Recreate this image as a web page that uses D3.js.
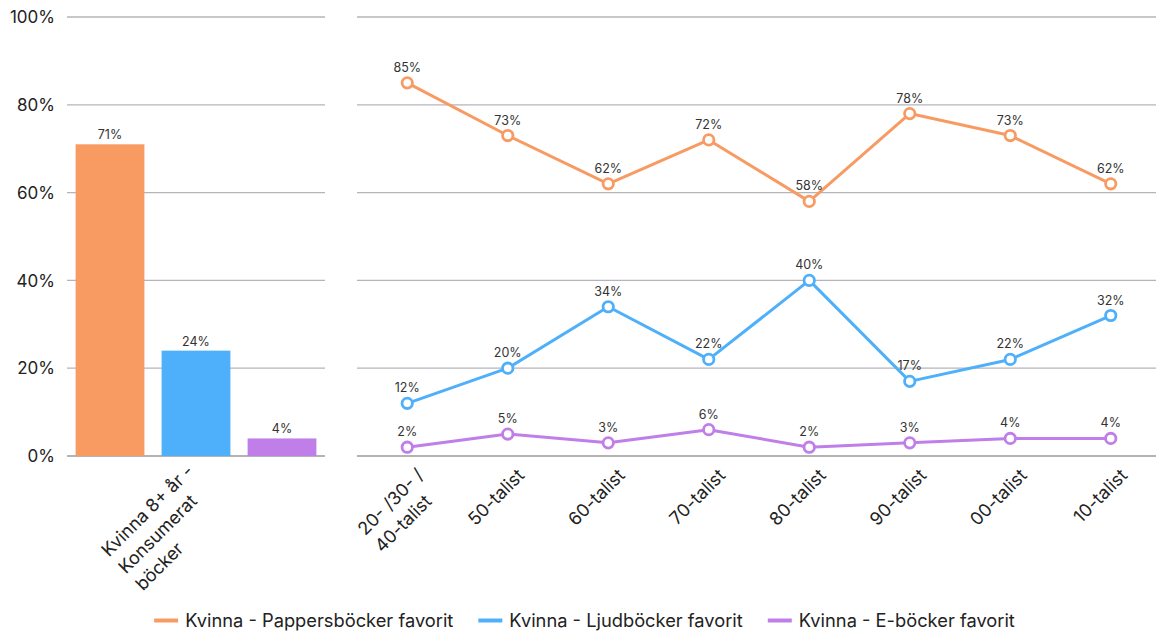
<!DOCTYPE html>
<html><head><meta charset="utf-8">
<script src="https://cdn.jsdelivr.net/npm/d3@7"></script>
<style>
html,body{margin:0;padding:0;background:#fff;}
svg{display:block;font-family:Inter, "Noto Sans", sans-serif;}
</style></head>
<body>
<svg id="chart" width="1156" height="633"></svg>
<script>
// ---- data ----
const seriesNames = ["Kvinna - Pappersböcker favorit", "Kvinna - Ljudböcker favorit", "Kvinna - E-böcker favorit"];
const seriesColors = ["#f89b63", "#4eb0fa", "#c07ee9"];
const barCategory = ["Kvinna 8+ år -", "Konsumerat", "böcker"];
const barValues = [71, 24, 4];
const lineCategories = [["20- /30- /", "40-talist"], ["50-talist"], ["60-talist"], ["70-talist"], ["80-talist"], ["90-talist"], ["00-talist"], ["10-talist"]];
const paperValues = [85, 73, 62, 72, 58, 78, 73, 62];
const audioValues = [12, 20, 34, 22, 40, 17, 22, 32];
const ebookValues = [2, 5, 3, 6, 2, 3, 4, 4];
const yTicks = [0, 20, 40, 60, 80, 100];

const svg = d3.select("#chart");
const y = d3.scaleLinear().domain([0, 100]).range([456, 17]);

// y axis labels
svg.append("g").selectAll("text").data(yTicks).join("text")
  .attr("x", 55).attr("y", d => y(d)).attr("dy", "0.36em")
  .attr("text-anchor", "end").attr("font-size", 17).attr("fill", "#222")
  .text(d => d + "%");

// gridlines
function grid(x0, x1) {
  svg.append("g").selectAll("line").data(yTicks).join("line")
    .attr("x1", x0).attr("x2", x1).attr("y1", d => y(d)).attr("y2", d => y(d))
    .attr("stroke", d => d === 0 ? "#9a9a9a" : "#b4b4bb").attr("stroke-width", 1.3);
}
grid(67, 325);
grid(357, 1156);

// ---- left bar panel ----
const xBar = d3.scaleBand().domain(d3.range(barValues.length)).range([67, 325]).paddingInner(0.2).paddingOuter(0.1);
svg.append("g").selectAll("rect").data(barValues).join("rect")
  .attr("x", (d, i) => xBar(i)).attr("width", xBar.bandwidth())
  .attr("y", d => y(d)).attr("height", d => y(0) - y(d))
  .attr("fill", (d, i) => seriesColors[i]);
svg.append("g").selectAll("text").data(barValues).join("text")
  .attr("x", (d, i) => xBar(i) + xBar.bandwidth() / 2).attr("y", d => y(d) - 5)
  .attr("text-anchor", "middle").attr("font-size", 12.5).attr("fill", "#333")
  .text(d => d + "%");

// rotated multi-line label
function rotLabel(cx, lines, ux, vy) {
  const t = svg.append("text")
    .attr("transform", `translate(${cx},456) rotate(-45)`)
    .attr("font-size", 18).attr("fill", "#222");
  lines.forEach((l, i) => t.append("tspan").attr("y", vy + i * 24).text(l));
  let maxW = 0;
  t.selectAll("tspan").each(function () { maxW = Math.max(maxW, this.getComputedTextLength()); });
  t.selectAll("tspan").attr("x", -maxW + ux);
}
rotLabel(196.5, barCategory, -13, 10);

// ---- right line panel ----
const xLine = d3.scaleBand().domain(d3.range(lineCategories.length)).range([357, 1161]);
const cx = i => xLine(i) + xLine.bandwidth() / 2;
lineCategories.forEach((lines, i) => rotLabel(cx(i), lines, -2, 27));

const lineGen = d3.line().x((d, i) => cx(i)).y(d => y(d));
[paperValues, audioValues, ebookValues].forEach((vals, s) => {
  const g = svg.append("g");
  g.append("path").datum(vals).attr("d", lineGen)
    .attr("fill", "none").attr("stroke", seriesColors[s]).attr("stroke-width", 3)
    .attr("stroke-linejoin", "round");
  g.selectAll("circle").data(vals).join("circle")
    .attr("cx", (d, i) => cx(i)).attr("cy", d => y(d)).attr("r", 5.2)
    .attr("fill", "#fff").attr("stroke", seriesColors[s]).attr("stroke-width", 2.8);
  g.selectAll("text").data(vals).join("text")
    .attr("x", (d, i) => cx(i)).attr("y", d => y(d) - 11)
    .attr("text-anchor", "middle").attr("font-size", 12.5).attr("fill", "#333")
    .text(d => d + "%");
});

// ---- legend ----
const leg = svg.append("g");
let lx = 0;
seriesNames.forEach((name, i) => {
  const g = leg.append("g");
  g.append("line").attr("x1", 0).attr("x2", 24).attr("y1", 0).attr("y2", 0)
    .attr("stroke", seriesColors[i]).attr("stroke-width", 4);
  const tx = g.append("text").attr("x", 31).attr("y", 0).attr("dy", "0.35em")
    .attr("font-size", 18.3).attr("fill", "#222").text(name);
  const w = 31 + tx.node().getComputedTextLength();
  g.attr("transform", `translate(${lx},620.5)`);
  lx += w + 25;
});
const totalW = lx - 25;
leg.attr("transform", `translate(${584.5 - totalW / 2},0)`);
</script>
</body></html>
